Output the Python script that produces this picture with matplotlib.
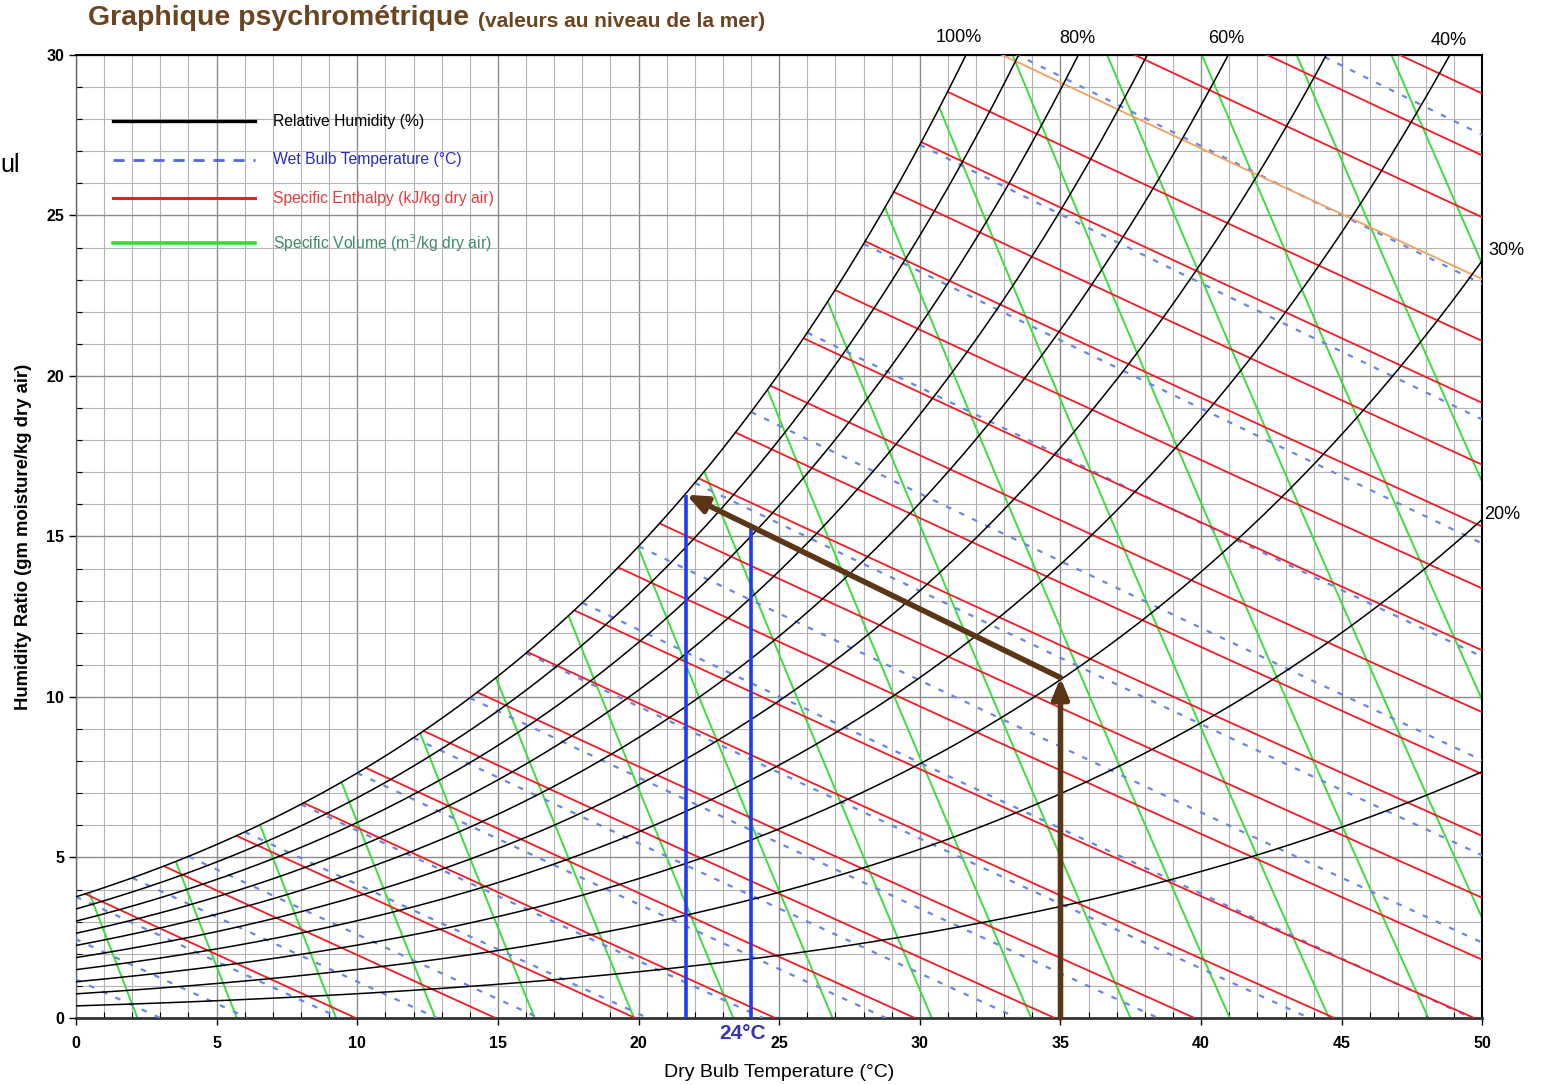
import numpy as np
import matplotlib
matplotlib.use("Agg")
import matplotlib.pyplot as plt
from matplotlib.lines import Line2D

plt.rcParams['font.family'] = ['Liberation Sans', 'DejaVu Sans']

# ---------------------------------------------------------------- data
P_ATM = 101.325                       # kPa, sea level

temp_ticks = [0, 5, 10, 15, 20, 25, 30, 35, 40, 45, 50]     # dry bulb, degC
w_ticks = [0, 5, 10, 15, 20, 25, 30]                         # g/kg dry air

rh_levels = [10, 20, 30, 40, 50, 60, 70, 80, 90, 100]        # %
wet_bulb_temps = [-4, -2, 0, 2, 4, 6, 8, 10, 12, 14, 16, 18,
                  20, 22, 24, 26, 28, 30, 32, 34]           # degC
enthalpy_levels = [10, 15, 20, 25, 30, 35, 40, 45, 50, 55, 60, 65, 70,
                   75, 80, 85, 90, 95, 100, 105, 110, 115, 120, 125]  # kJ/kg
highlight_enthalpy = 110
volume_levels = [0.78, 0.79, 0.80, 0.81, 0.82, 0.83, 0.84, 0.85, 0.86,
                 0.87, 0.88, 0.89, 0.90, 0.91, 0.92, 0.93, 0.94, 0.95]  # m3/kg

rh_labels = ['100%', '80%', '60%', '40%', '30%', '20%']

# evaporative cooling process (dry bulb degC, humidity ratio g/kg)
process_start = (35.0, 10.6)
process_end = (21.7, 16.3)
marked_temp = 24.0
marked_label = '24°C'


# ---------------------------------------------------------- psychrometrics
def p_ws(t):
    """Saturation vapour pressure over water (kPa), Hyland-Wexler."""
    tk = np.asarray(t, dtype=float) + 273.15
    ln = (-5.8002206e3 / tk + 1.3914993 - 4.8640239e-2 * tk
          + 4.1764768e-5 * tk ** 2 - 1.4452093e-8 * tk ** 3
          + 6.5459673 * np.log(tk))
    return np.exp(ln) / 1000.0


def w_sat(t):
    pw = p_ws(t)
    return 0.621945 * pw / (P_ATM - pw)          # kg/kg


def w_rh(t, rh):
    pw = rh / 100.0 * p_ws(t)
    return 0.621945 * pw / (P_ATM - pw)


# ---------------------------------------------------------------- figure
fig = plt.figure(figsize=(15.5, 10.85), dpi=100)
ax = fig.add_axes([0.049, 0.0618, 0.9074, 0.8875])
ax.set_xlim(0, 50)
ax.set_ylim(0, 30)

# grid
for x in range(0, 51):
    major = x % 5 == 0
    ax.axvline(x, color='#8c8c8c' if major else '#b4b4b4',
               lw=1.0 if major else 0.8, zorder=0)
for y in range(0, 31):
    major = y % 5 == 0
    ax.axhline(y, color='#8c8c8c' if major else '#b4b4b4',
               lw=1.0 if major else 0.8, zorder=0)

t_fine = np.linspace(-6, 50, 6000)
ws_fine = w_sat(t_fine) * 1000

# specific volume lines (green)
w_param = np.linspace(0, 0.032, 800)
for v in volume_levels:
    tv = v * P_ATM / (0.287042 * (1 + 1.607858 * w_param)) - 273.15
    wg = w_param * 1000
    wg = np.where(wg <= w_sat(tv) * 1000, wg, np.nan)
    ax.plot(tv, wg, color='#3ddc3d', lw=1.4, zorder=2)

# wet bulb lines (blue, dashed)
for twb in wet_bulb_temps:
    ws = w_sat(twb)
    t = np.linspace(twb, 50, 1500)
    w = ((2501 - 2.326 * twb) * ws - 1.006 * (t - twb)) / \
        (2501 + 1.86 * t - 4.186 * twb) * 1000
    w = np.where(w >= 0, w, np.nan)
    ax.plot(t, w, color='#6a86e4', lw=1.6, ls=(0, (2.5, 4.0)), zorder=3)

# enthalpy lines (red)
for h in enthalpy_levels:
    w = (h - 1.006 * t_fine) / (2501 + 1.86 * t_fine) * 1000
    w = np.where((w <= ws_fine) & (w >= 0), w, np.nan)
    col = '#f0a060' if h == highlight_enthalpy else '#ee1c24'
    ax.plot(t_fine, w, color=col, lw=1.3, zorder=4)

# relative humidity curves (black)
t_rh = np.linspace(0, 50, 1000)
for rh in rh_levels:
    ax.plot(t_rh, w_rh(t_rh, rh) * 1000, color='black', lw=1.1, zorder=5)

# percentage labels
label_pos = {'100%': (31.4, 30.55, 'center'), '80%': (35.6, 30.5, 'center'),
             '60%': (40.9, 30.5, 'center'), '40%': (48.8, 30.45, 'center'),
             '30%': (50.2, 23.9, 'left'), '20%': (50.05, 15.7, 'left')}
for lab in rh_labels:
    x, y, ha = label_pos[lab]
    ax.text(x, y, lab, fontsize=13, ha=ha, va='center', clip_on=False)

# process lines
brown = '#5a3616'
wmark = np.interp(marked_temp, [process_end[0], process_start[0]],
                  [process_end[1], process_start[1]])
ax.plot([process_end[0], process_end[0]], [0, process_end[1]],
        color='#1f3cf0', lw=2.6, zorder=6, solid_capstyle='butt')
ax.plot([marked_temp, marked_temp], [0, wmark],
        color='#1f3cf0', lw=2.6, zorder=6, solid_capstyle='butt')

arrow_kw = dict(arrowstyle='-|>,head_length=1.2,head_width=0.5',
                color=brown, lw=4, shrinkA=0, shrinkB=0)
ax.annotate('', xy=process_start, xytext=(process_start[0], 0),
            arrowprops=arrow_kw, zorder=7)
ax.annotate('', xy=process_end, xytext=process_start,
            arrowprops=arrow_kw, zorder=7)

ax.text(marked_temp - 0.3, -0.2, marked_label, color='#3535b0',
        fontsize=15, fontweight='bold', ha='center', va='top',
        clip_on=False)

# legend drawn inside the chart
leg_items = [
    ('Relative Humidity (%)', 'black', '-', 2.4, 'black'),
    ('Wet Bulb Temperature (°C)', '#4a6ae0', (0, (4, 3.2)), 2.0, '#2a2ac0'),
    ('Specific Enthalpy (kJ/kg dry air)', '#ee1c24', '-', 2.2, '#e83a3a'),
    ('Specific Volume (m$^3$/kg dry air)', '#2fe02f', '-', 2.6, '#3d8a6a'),
]
leg_y = [0.931, 0.891, 0.8515, 0.805]
for (txt, lc, ls, lw, tc), yy in zip(leg_items, leg_y):
    ax.add_line(Line2D([0.026, 0.127], [yy, yy], transform=ax.transAxes,
                       color=lc, ls=ls, lw=lw, zorder=8))
    ax.text(0.140, yy, txt, transform=ax.transAxes, color=tc, fontsize=11.3,
            va='center', ha='left', zorder=8)

# axes styling
ax.set_xticks(temp_ticks)
ax.set_yticks(w_ticks)
ax.set_xticks(range(0, 51), minor=True)
ax.set_yticks(range(0, 31), minor=True)
ax.tick_params(which='major', direction='out', length=5, width=1.0,
               labelsize=11.5)
ax.tick_params(which='minor', direction='in', length=4, width=0.8)
for lab in ax.get_xticklabels() + ax.get_yticklabels():
    lab.set_fontweight('bold')
ax.tick_params(axis='x', pad=8)
for side in ['top', 'right']:
    ax.spines[side].set_linewidth(1.5)
ax.spines['bottom'].set_linewidth(2.0)
ax.spines['bottom'].set_color('#333333')
ax.spines['left'].set_linewidth(1.0)
ax.spines['left'].set_color('#666666')

ax.set_xlabel('Dry Bulb Temperature (°C)', fontsize=14, labelpad=9)
ax.set_ylabel('Humidity Ratio (gm moisture/kg dry air)', fontsize=13.3,
              fontweight='bold', labelpad=10)

# title
fig.text(0.0568, 0.983, 'Graphique psychrométrique', fontsize=20.5,
         fontweight='bold', color='#6b4420', va='center', ha='left')
fig.text(0.3085, 0.980, '(valeurs au niveau de la mer)', fontsize=15,
         fontweight='bold', color='#6b4420', va='center', ha='left')
fig.text(0.0, 0.848, 'ul', fontsize=18, color='black', va='center',
         ha='left')

fig.savefig('out.png', dpi=100, facecolor='white')
